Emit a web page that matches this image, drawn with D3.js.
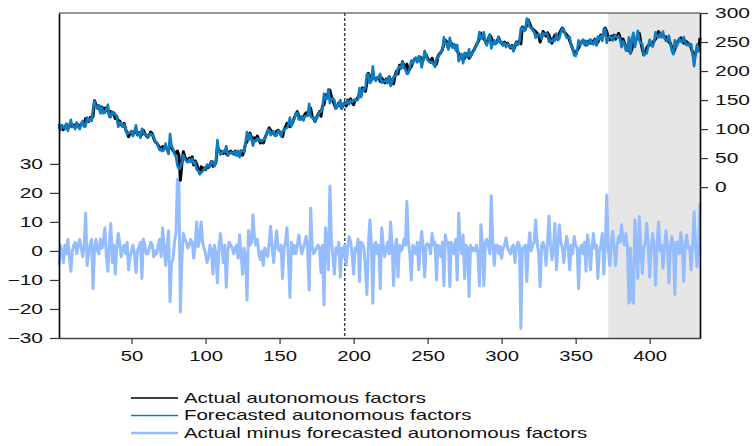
<!DOCTYPE html>
<html>
<head>
<meta charset="utf-8">
<script src="https://cdn.jsdelivr.net/npm/d3@7"></script>
<style>
  body { margin: 0; background: #fff; }
  text { font-family: "Liberation Sans", Arial, sans-serif; }
</style>
</head>
<body>
<svg width="755" height="446"></svg>
<script>
// actual autonomous factors, observations 1..434 (right axis)
const actual = [
  104,100,106,99,103,108,101,105,109,104,
  107,103,110,106,104,109,112,106,118,115,
  113,120,118,122,149,142,136,140,131,138,
  130,136,132,135,124,130,126,128,118,122,
  110,114,108,105,110,99,94,87,92,96,
  90,95,99,90,94,88,91,98,92,89,
  86,90,95,92,84,78,76,72,68,64,
  70,66,70,66,64,74,68,63,60,58,
  62,55,12,40,61,52,48,44,50,47,
  52,38,45,40,30,26,35,30,33,30,
  35,34,38,44,36,38,42,70,64,62,
  60,58,63,58,55,60,62,59,57,62,
  56,60,57,62,55,62,75,78,88,93,
  86,84,85,81,88,82,76,80,76,84,
  90,96,102,98,95,92,90,96,98,95,
  90,87,98,104,110,106,104,108,112,120,
  126,130,122,118,121,116,125,128,124,130,
  136,122,118,113,120,125,130,122,140,142,
  159,155,162,167,156,150,142,136,140,145,
  141,136,142,145,140,150,148,152,146,142,
  150,150,155,160,158,171,168,165,180,196,
  190,185,190,188,186,188,190,182,188,184,
  180,186,182,190,184,184,178,192,200,195,
  210,205,216,210,205,212,199,204,208,215,
  220,222,218,219,224,213,220,226,228,222,
  218,215,222,214,210,212,225,230,232,238,
  246,253,250,240,245,248,242,245,240,235,
  230,225,228,219,222,230,226,222,226,231,
  235,240,245,250,255,265,260,255,252,248,
  255,262,258,250,248,248,252,258,250,248,
  245,250,246,248,244,240,244,236,242,250,
  248,252,247,276,270,272,280,288,282,275,
  272,270,268,265,262,250,258,268,264,260,
  266,262,255,248,256,262,258,255,265,270,
  274,268,265,262,259,252,245,238,232,228,
  236,240,246,250,253,248,245,250,252,248,
  248,252,255,246,250,255,262,258,265,274,
  268,258,254,260,259,262,255,260,265,258,
  250,255,248,241,236,240,231,238,248,252,
  255,260,265,250,238,228,232,240,244,245,
  248,248,252,255,262,268,264,260,262,258,
  259,255,250,248,240,231,238,245,250,255,
  257,252,248,252,250,248,245,240,232,222,
  230,240,235,257
];

// actual minus forecasted autonomous factors (left axis)
const residual = [
  -5,2,0,-4,2,-1,4,-2,-7,0,
  2,3,-1,2,4,1,-2,2,13,-5,
  -1,2,4,-13,1,4,0,-1,4,1,
  3,8,-2,-7,3,9.5,-4,2,-8,1,
  6,3,-2,1,2,-1,3,-6.5,-2,0,
  2,-1,-7.5,0,1.5,3,-9.5,4,2,-1,
  -1,1,3,2,-2,0,-1,2,4,-2,
  8,1,-5,2,7,-17.5,-4,-3,3,6,
  24.7,24,-21,-3,6,4,3,1,2,4,
  3,-2.5,2,10,1.5,4,10,3,1,-1,
  -4,-2,2,0,-8,2,-1,-11,1,6,
  1,-4,2,-12.5,0,3,2,1,-1,1,
  2,-2.5,5.5,-1,-8,1,-2,-17,7,2,
  3,12.5,5,2,4,-1,-3,0,-5,1,
  0,-2,3,8.5,1,-4,2,7,1,0,
  2,-9.5,1,3,8,-3,-16,3,-1,2,
  -1,2,5.5,2,-1,1,3,5,0,-13.5,
  14.7,2,-1,0,1,2,1,-7.5,2,-18.6,
  8,3,-6.5,22.4,4,-2,-8,1,-1,3,
  -9,1,-2,2,-5,1,5,3,-1,-8,
  1,0,4,-10.5,3,2.5,1,-6,-15,2,
  10.7,3,-18,2,3,-1,2,-13,8,2,
  -2,1,3,-1,10,2,-12,1,4,-9,
  2,0,1,4,2,17,3,-1,-10,2,
  1,-1,3,-6.5,2,6.7,1,-9,2,2.5,
  2,-1,6,2,3,-10,2,1.5,-2,3,
  -12,5.5,2,3,-12.3,3,2,-1,4,-10,
  13,2,-1,5.5,-9.5,2,1,-15.7,2,0,
  1,0,2,-1,-12,9,2,-12,3,4,
  2,-1,19,3,-5,2,2,-1,1.5,-2.5,
  1,2,4.5,1,0,-1,1.5,2,-4,1,
  3,2,-26.7,1,1,2,-10.5,1,6.3,0,
  2,3,10.7,3,-1,-12.3,2,3,1,-5,
  3,12,2,-3,1,9.5,-6.5,2,9,3,
  1,-4,2,5,1,-6.5,2,-1,5,2,
  1,-13,1,2,-1,3,-7,5.5,2,-6.5,
  1,6,1,2,-9.5,0,2,6,-8,2,
  19.3,1,-5,2,6.7,1,-5,2,5,3,
  9,4,2,6,1,-18,1,-17,-18,10.7,
  2,-9.5,11.8,2,-7.7,1,2.6,9.5,2,-9,
  1,6,2,-11.7,2,10,0,2,-6,1,
  7,2,-11,1,5,2,-15,3,3,-1,
  6.3,2,-10.5,2,5.5,1,1.5,-6.5,2,13.5,
  2,-5.5,1,16.4
];

// forecast = actual - (actual minus forecast), as defined by the legend
const forecast = actual.map((v, i) => v - residual[i]);

const xTicks = [50, 100, 150, 200, 250, 300, 350, 400];
const leftTicks = [-30, -20, -10, 0, 10, 20, 30];
const rightTicks = [0, 50, 100, 150, 200, 250, 300];
const splitAt = 194;       // dashed line
const shadeFrom = 372;     // grey out-of-sample block
const labels = [
  "Actual autonomous factors",
  "Forecasted autonomous factors",
  "Actual minus forecasted autonomous factors"
];
const colors = ["#000000", "#0d7bc0", "#95bcfd"];

const LEFT = 59, RIGHT = 700, TOP = 13, BOTTOM = 338;

const svg = d3.select("svg");

const x = d3.scaleLinear().domain([1, actual.length]).range([LEFT, RIGHT]);
const yL = d3.scaleLinear().domain([-30, 82]).range([BOTTOM, TOP]);
const yR = d3.scaleLinear().domain([-260, 300]).range([BOTTOM, TOP]);

function stretch(sel, s) {
  sel.each(function() {
    const t = d3.select(this);
    const tx = +t.attr("x") || 0, ty = +t.attr("y") || 0;
    t.attr("transform", `translate(${tx},${ty}) scale(${s},1) translate(${-tx},${-ty})`);
  });
}

// shaded block
svg.append("rect")
  .attr("x", x(shadeFrom))
  .attr("y", TOP)
  .attr("width", x(actual.length) - x(shadeFrom))
  .attr("height", BOTTOM - TOP)
  .attr("fill", "#e6e6e6");

// dashed split line
svg.append("line")
  .attr("x1", x(splitAt)).attr("x2", x(splitAt))
  .attr("y1", TOP).attr("y2", BOTTOM)
  .attr("stroke", "#444")
  .attr("stroke-width", 1.5)
  .attr("stroke-dasharray", "3,2");

const lineL = d3.line().x((d, i) => x(i + 1)).y(d => yL(d));
const lineR = d3.line().x((d, i) => x(i + 1)).y(d => yR(d));

svg.append("path")
  .datum(residual)
  .attr("fill", "none")
  .attr("stroke", colors[2])
  .attr("stroke-width", 3)
  .attr("stroke-linejoin", "round")
  .attr("d", lineL);

svg.append("path")
  .datum(actual)
  .attr("fill", "none")
  .attr("stroke", colors[0])
  .attr("stroke-width", 3)
  .attr("stroke-linejoin", "round")
  .attr("d", lineR);

svg.append("path")
  .datum(forecast)
  .attr("fill", "none")
  .attr("stroke", colors[1])
  .attr("stroke-width", 2.6)
  .attr("stroke-linejoin", "round")
  .attr("d", lineR);

// frame top
svg.append("line")
  .attr("x1", LEFT).attr("x2", RIGHT)
  .attr("y1", TOP).attr("y2", TOP)
  .attr("stroke", "#333")
  .attr("stroke-width", 1.2);

// axes
const gx = svg.append("g")
  .attr("transform", `translate(0,${BOTTOM})`)
  .call(d3.axisBottom(x).tickValues(xTicks).tickSize(6).tickSizeOuter(0).tickPadding(7));

const gl = svg.append("g")
  .attr("transform", `translate(${LEFT},0)`)
  .call(d3.axisLeft(yL).tickValues(leftTicks).tickSize(9).tickSizeOuter(0).tickPadding(7));

const gr = svg.append("g")
  .attr("transform", `translate(${RIGHT},0)`)
  .call(d3.axisRight(yR).tickValues(rightTicks).tickSize(8).tickSizeOuter(0).tickPadding(7));

[gx, gl, gr].forEach(g => {
  g.attr("color", "#000");
  g.select(".domain").attr("stroke-width", 1.6);
  g.selectAll(".tick line").attr("stroke", "#333").attr("stroke-width", 1.2);
  g.selectAll(".tick text").attr("font-size", 14).attr("fill", "#111")
    .attr("font-family", "'Liberation Sans', Arial, sans-serif");
});
gx.select(".domain").attr("stroke", "#444");
stretch(gx.selectAll(".tick text"), 1.45);
stretch(gl.selectAll(".tick text"), 1.5);
stretch(gr.selectAll(".tick text"), 1.5);

// legend
const legend = svg.append("g");
labels.forEach((lab, k) => {
  const ly = 398 + k * 17.5;
  legend.append("line")
    .attr("x1", 131).attr("x2", 178)
    .attr("y1", ly).attr("y2", ly)
    .attr("stroke", colors[k])
    .attr("stroke-width", k === 2 ? 2.5 : 1.6);
  legend.append("text")
    .attr("x", 184).attr("y", ly + 4.8)
    .attr("font-size", 14.5)
    .attr("fill", "#111")
    .text(lab);
});
stretch(legend.selectAll("text"), 1.41);
</script>
</body>
</html>
